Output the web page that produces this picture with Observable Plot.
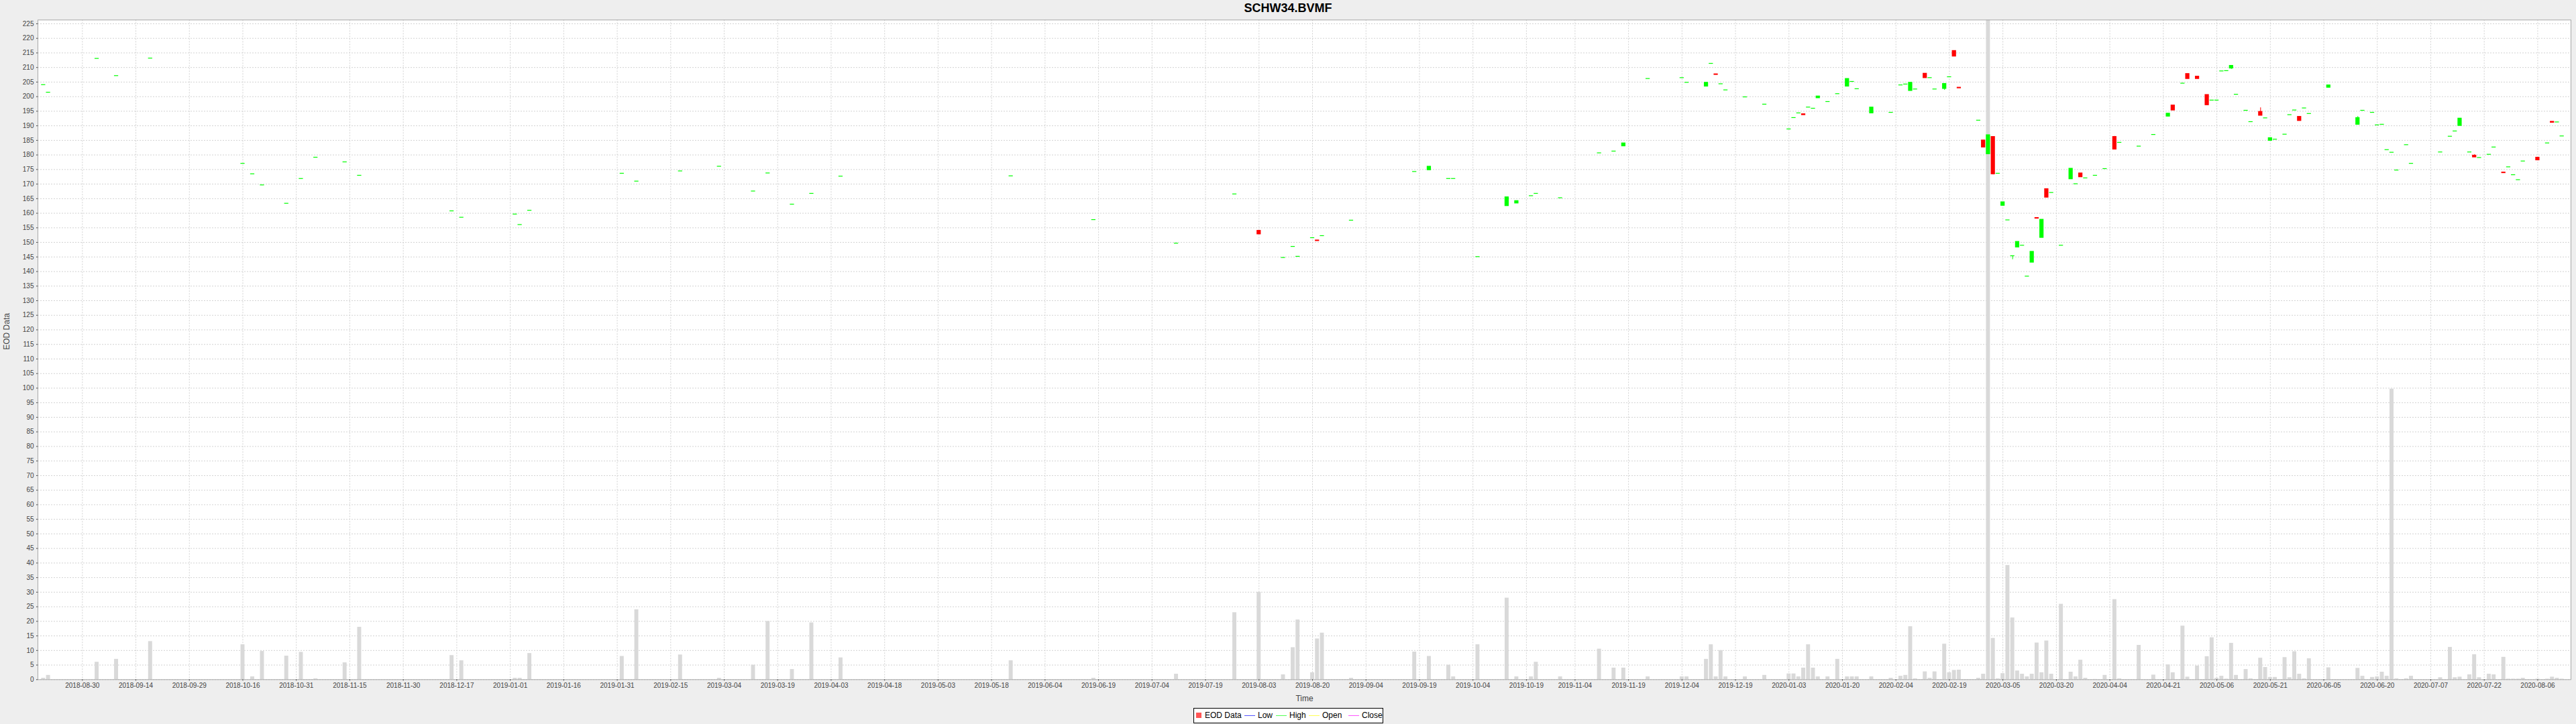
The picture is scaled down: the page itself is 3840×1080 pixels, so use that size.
<!DOCTYPE html>
<html>
<head>
<meta charset="utf-8">
<script src="https://cdn.jsdelivr.net/npm/d3@7"></script>
<script src="https://cdn.jsdelivr.net/npm/@observablehq/plot@0.6"></script>
<style>
  html, body { margin: 0; padding: 0; background: #EEEEEE; }
  body { width: 3840px; height: 1080px; overflow: hidden; font-family: "Liberation Sans", Arial, sans-serif; position: relative; }
  #title { height: 24px; line-height: 24px; text-align: center; font-weight: bold; font-size: 18px; color: #000; }
  #chart svg { display: block; }
  #legend { position: absolute; left: 1779px; top: 1056px; height: 21px; border: 1px solid #000; background: #fff; font-size: 12px; color: #000; white-space: nowrap; }
  #legend span { position: absolute; top: 3px; line-height: 14px; }
  #legend i { position: absolute; display: block; }
</style>
</head>
<body>
<div id="title">SCHW34.BVMF</div>
<div id="chart"></div>
<div id="legend"></div>
<script>
// ---- data ----
const dates = ["2018-08-20","2018-08-21","2018-09-04","2018-09-10","2018-09-19","2018-10-16","2018-10-18","2018-10-22","2018-10-29","2018-11-01","2018-11-06","2018-11-14","2018-11-19","2018-12-14","2018-12-18",
"2019-01-02","2019-01-03","2019-01-07","2019-02-01","2019-02-06","2019-02-19","2019-03-01","2019-03-12","2019-03-15","2019-03-22","2019-03-28","2019-04-05","2019-05-24","2019-06-18","2019-07-11","2019-07-29","2019-08-05","2019-08-12","2019-08-14","2019-08-15",
"2019-08-20","2019-08-21","2019-08-22","2019-08-30","2019-09-18","2019-09-23","2019-09-27","2019-09-30","2019-10-07","2019-10-15","2019-10-17","2019-10-22","2019-10-23","2019-10-30","2019-11-11","2019-11-14","2019-11-18","2019-11-25","2019-12-04","2019-12-05","2019-12-11","2019-12-12","2019-12-13","2019-12-16","2019-12-17",
"2019-12-23","2019-12-27","2020-01-03","2020-01-06","2020-01-07","2020-01-08","2020-01-09","2020-01-10","2020-01-13","2020-01-15","2020-01-17","2020-01-21","2020-01-22","2020-01-23","2020-01-28","2020-02-03","2020-02-05","2020-02-06","2020-02-07","2020-02-10","2020-02-12","2020-02-13","2020-02-14","2020-02-18","2020-02-19","2020-02-20","2020-02-21","2020-02-27","2020-02-28",
"2020-03-02","2020-03-03","2020-03-04","2020-03-05","2020-03-06","2020-03-09","2020-03-10","2020-03-11","2020-03-12","2020-03-13","2020-03-16","2020-03-17","2020-03-18","2020-03-19","2020-03-23","2020-03-25","2020-03-26","2020-03-27","2020-03-30","2020-04-01","2020-04-03","2020-04-07","2020-04-08","2020-04-14",
"2020-04-17","2020-04-22","2020-04-23","2020-04-27","2020-04-28","2020-04-30","2020-05-04","2020-05-05","2020-05-06","2020-05-07","2020-05-08","2020-05-11","2020-05-12","2020-05-14","2020-05-15","2020-05-19","2020-05-20","2020-05-21","2020-05-22","2020-05-26","2020-05-27","2020-05-28","2020-05-29","2020-06-01","2020-06-02","2020-06-08",
"2020-06-16","2020-06-17","2020-06-19","2020-06-22","2020-06-23","2020-06-24","2020-06-25","2020-06-26","2020-06-30","2020-07-01","2020-07-09","2020-07-13","2020-07-14","2020-07-15","2020-07-17","2020-07-20","2020-07-21","2020-07-23","2020-07-24","2020-07-28","2020-07-29","2020-07-30","2020-07-31","2020-08-03","2020-08-06","2020-08-10","2020-08-11","2020-08-12","2020-08-13"];

const opens = [204.0,201.4,213.0,207.1,213.1,177.0,173.4,169.6,163.3,171.8,179.1,177.5,172.9,160.7,158.5,
159.6,156.0,160.9,173.6,170.9,174.4,176.0,167.5,173.7,163.0,166.7,172.6,172.7,157.7,149.6,166.5,154.0,144.7,148.5,145.1,
151.5,150.7,152.2,157.5,174.2,174.8,171.8,171.8,145.0,162.5,163.4,165.9,166.7,165.2,180.6,181.2,183.0,206.1,206.4,204.8,203.5,211.3,207.7,204.3,202.2,
199.8,197.3,188.8,192.7,194.3,194.0,196.3,195.9,199.5,198.2,200.9,203.5,205.1,202.6,194.3,194.5,203.9,204.2,202.0,202.5,207.9,206.4,202.5,202.7,206.7,215.7,203.1,191.8,185.0,
180.3,186.2,173.6,162.6,157.6,145.3,148.3,148.9,138.3,143.1,158.4,151.6,168.3,167.0,148.9,171.7,170.0,173.7,172.0,172.9,175.2,186.2,184.2,182.9,
186.9,193.2,197.0,204.5,207.8,206.9,200.6,198.7,198.7,208.7,208.8,209.7,200.7,195.2,191.3,194.8,192.6,184.9,185.3,187.0,193.7,195.3,193.1,196.0,194.1,203.1,
190.4,195.2,194.5,190.2,190.4,181.7,180.8,174.7,183.4,177.0,180.9,186.3,188.1,190.0,180.9,179.8,179.0,180.1,182.6,174.0,175.8,173.1,171.4,177.8,179.1,184.0,191.4,191.2,186.4];

const highs = [204.0,201.4,213.0,207.1,213.1,177.0,173.4,169.6,163.3,171.8,179.1,177.5,172.9,160.7,158.5,
159.6,156.0,160.9,173.6,170.9,174.4,176.0,167.5,173.7,163.0,166.7,172.6,172.7,157.7,149.6,166.5,154.0,144.7,148.5,145.1,
151.5,150.7,152.2,157.5,174.2,176.0,171.8,171.8,145.0,165.5,164.2,165.9,166.7,165.2,180.6,181.2,184.0,206.1,206.4,204.8,204.8,211.3,207.7,204.3,202.2,
199.8,197.3,188.8,192.7,194.3,194.0,196.3,195.9,200.1,198.2,200.9,206.1,205.1,202.6,196.3,194.5,203.9,204.2,204.8,202.5,207.9,206.4,202.5,204.4,206.7,215.7,203.1,191.8,185.0,
186.8,186.2,173.6,163.8,157.6,145.3,150.2,148.9,138.3,146.8,158.4,157.8,168.3,167.0,148.9,175.3,170.0,173.7,172.0,172.9,175.2,186.4,184.2,182.9,
186.9,194.2,197.0,204.5,207.8,206.9,200.6,198.7,198.7,208.7,208.8,210.6,200.7,195.2,191.3,196.2,192.6,185.8,185.3,187.0,193.7,195.3,193.1,196.0,194.1,203.9,
193.2,195.2,194.5,190.2,190.4,181.7,180.8,174.7,183.4,177.0,180.9,186.3,188.1,192.5,180.9,180.1,179.0,180.1,182.6,174.0,175.8,173.1,171.4,177.8,179.1,184.0,191.4,191.2,186.4];

const lows = [204.0,201.4,213.0,207.1,213.1,177.0,173.4,169.6,163.3,171.8,179.1,177.5,172.9,160.7,158.5,
159.6,156.0,160.9,173.6,170.9,174.4,176.0,167.5,173.7,163.0,166.7,172.6,172.7,157.7,149.6,166.5,152.8,144.7,148.5,145.1,
151.5,150.5,152.2,157.5,174.2,174.8,171.8,171.8,145.0,162.5,163.4,165.9,166.7,165.2,180.6,181.2,183.0,206.1,206.4,204.8,203.5,211.3,207.5,204.3,202.2,
199.8,197.3,188.8,192.7,194.3,193.7,196.3,195.9,199.5,198.2,200.9,203.5,205.1,202.6,194.3,194.5,203.9,204.2,202.0,202.5,206.4,206.4,202.5,202.2,206.7,213.8,202.9,191.8,182.6,
180.3,173.2,173.6,162.6,157.6,144.1,148.3,148.9,138.3,143.1,158.2,151.6,165.4,167.0,148.9,171.7,170.0,172.4,172.0,172.9,175.2,181.9,184.2,182.9,
186.9,193.2,195.3,204.5,206.1,206.1,197.1,198.7,198.7,208.7,208.8,209.4,200.7,195.2,191.3,193.5,192.6,184.9,185.3,187.0,193.7,195.3,191.7,196.0,194.1,203.1,
190.4,195.2,194.5,190.2,190.4,181.7,180.8,174.7,183.4,177.0,180.9,186.3,188.1,190.0,180.9,179.2,179.0,180.1,182.6,173.8,175.8,173.1,171.4,177.8,178.2,184.0,191.1,191.2,186.4];

const closes = [204.0,201.4,213.0,207.1,213.1,177.0,173.4,169.6,163.3,171.8,179.1,177.5,172.9,160.7,158.5,
159.6,156.0,160.9,173.6,170.9,174.4,176.0,167.5,173.7,163.0,166.7,172.6,172.7,157.7,149.6,166.5,152.8,144.7,148.5,145.1,
151.5,150.5,152.2,157.5,174.2,176.0,171.8,171.8,145.0,165.5,164.2,165.9,166.7,165.2,180.6,181.2,184.0,206.1,206.4,204.8,204.8,211.3,207.5,204.3,202.2,
199.8,197.3,188.8,192.7,194.3,193.7,196.3,195.9,200.1,198.2,200.9,206.1,205.1,202.6,196.3,194.5,203.9,204.2,204.8,202.5,206.4,206.4,202.5,204.4,206.7,213.8,202.9,191.8,182.6,
186.8,173.4,173.6,163.8,157.6,145.3,150.2,148.9,138.3,146.8,158.2,157.8,165.4,167.0,148.9,175.3,170.0,172.4,172.0,172.9,175.2,181.9,184.2,182.9,
186.9,194.2,195.3,204.5,206.1,206.1,197.1,198.7,198.7,208.7,208.8,210.6,200.7,195.2,191.3,193.5,192.6,185.8,185.3,187.0,193.7,195.3,191.7,196.0,194.1,203.9,
192.7,195.2,194.5,190.2,190.4,181.7,180.8,174.7,183.4,177.0,180.9,186.3,188.1,192.5,180.9,179.2,179.0,180.1,182.6,173.8,175.8,173.1,171.4,177.8,178.2,184.0,191.1,191.2,186.4];

// volume, read in units of the price axis (the largest bar fills the plot height)
const volumes = [0.5,1.5,6.0,7.0,13.1,12.0,1.0,9.7,8.1,9.4,0.3,5.8,18.0,8.3,6.5,
0.5,0.5,9.0,8.0,24.0,8.5,0.5,5.0,20.0,3.5,19.5,7.5,6.5,0.5,1.9,23.0,30.0,1.7,11.0,20.5,
2.4,14.0,16.0,0.5,9.5,8.0,5.0,1.0,12.0,28.0,1.0,1.0,6.0,1.0,10.5,4.0,4.0,1.0,1.0,1.0,7.0,12.0,1.0,10.0,1.0,
1.0,1.5,2.0,2.0,1.0,4.0,12.0,4.0,1.0,1.0,7.0,1.0,1.0,1.0,1.0,0.5,1.2,1.5,18.2,0.3,2.7,0.5,2.7,12.2,2.4,3.2,3.3,0.5,1.9,
226.3,14.2,0.3,2.1,39.2,21.2,3.0,1.9,1.0,1.9,12.6,2.4,13.3,1.9,25.9,2.6,1.0,6.7,0.5,0.1,1.5,27.5,0.3,11.8,
1.6,5.1,2.4,18.4,0.9,4.7,7.9,14.4,0.5,1.2,0.2,12.5,1.5,3.5,0.3,7.4,4.2,0.8,0.8,7.6,0.7,9.6,1.9,0.3,7.2,4.1,
3.9,1.2,0.8,1.0,2.6,1.2,99.7,0.3,0.3,1.2,0.7,11.1,0.7,0.9,1.7,8.6,0.7,1.9,1.7,7.7,0.2,0.2,0.2,0.5,0.2,0.2,0.9,0.5,0.2];

const xTickLabels = ["2018-08-30","2018-09-14","2018-09-29","2018-10-16","2018-10-31","2018-11-15","2018-11-30","2018-12-17",
"2019-01-01","2019-01-16","2019-01-31","2019-02-15","2019-03-04","2019-03-19","2019-04-03","2019-04-18","2019-05-03","2019-05-18","2019-06-04","2019-06-19","2019-07-04","2019-07-19","2019-08-03","2019-08-20","2019-09-04","2019-09-19","2019-10-04","2019-10-19","2019-11-04","2019-11-19","2019-12-04","2019-12-19",
"2020-01-03","2020-01-20","2020-02-04","2020-02-19","2020-03-05","2020-03-20","2020-04-04","2020-04-21","2020-05-06","2020-05-21","2020-06-05","2020-06-20","2020-07-07","2020-07-22","2020-08-06"];

const yTicks = [0,5,10,15,20,25,30,35,40,45,50,55,60,65,70,75,80,85,90,95,100,105,110,115,120,125,130,135,140,145,150,155,160,165,170,175,180,185,190,195,200,205,210,215,220,225];

const seriesName = "EOD Data";
const legendItems = ["Low", "High", "Open", "Close"];

// ---- weekday (Monday-Friday) timeline: weekends take no space ----
const BASE = Date.UTC(2018, 7, 27); // a Monday
function wd(s) {
  const [y, m, d] = s.split("-").map(Number);
  const days = Math.round((Date.UTC(y, m - 1, d) - BASE) / 864e5);
  const wk = Math.floor(days / 7);
  const dow = days - wk * 7;
  return wk * 5 + Math.min(dow, 5) - 3; // 0 at 2018-08-30
}

const rows = dates.map((d, i) => ({
  w: wd(d), o: opens[i], h: highs[i], l: lows[i], c: closes[i], v: volumes[i],
  dir: closes[i] >= opens[i] ? "up" : "down"
}));
const xTickPos = xTickLabels.map(wd);
const labelAt = new Map(xTickPos.map((p, i) => [p, xTickLabels[i]]));

const yTop = 226.3;
const vMax = d3.max(volumes);
const gridStyle = {stroke: "#D2D2D2", strokeOpacity: 1, strokeWidth: 1, strokeDasharray: "2,2"};

const chart = Plot.plot({
  width: 3840,
  height: 1028,
  marginTop: 5.3,
  marginBottom: 38.7,
  marginLeft: 56,
  marginRight: 8,
  style: {background: "transparent", fontFamily: "'Liberation Sans', Arial, sans-serif", overflow: "visible"},
  x: {type: "linear", domain: [-9.15, 511.84]},
  y: {domain: [0, yTop]},
  color: {domain: ["up", "down"], range: ["#00FF00", "#FF0000"]},
  marks: [
    Plot.frame({fill: "#FFFFFF", stroke: null}),
    Plot.gridY(yTicks, gridStyle),
    Plot.gridX(xTickPos, gridStyle),
    Plot.rect(rows, {x1: r => r.w - 0.41, x2: r => r.w + 0.41, y1: 0, y2: r => r.v / vMax * yTop, fill: "#D9D9D9"}),
    Plot.ruleX(rows, {x: "w", y1: "l", y2: "h", stroke: "dir", strokeWidth: 1}),
    Plot.rect(rows, {x1: r => r.w - 0.43, x2: r => r.w + 0.43, y1: "o", y2: "c", fill: "dir", insetTop: -0.6, insetBottom: -0.6}),
    Plot.frame({stroke: "#A8A8A8", strokeWidth: 1}),
    Plot.axisY(yTicks, {anchor: "left", tickSize: 2, tickPadding: 4, fontSize: 10, label: null, color: "#444444"}),
    Plot.axisX(xTickPos, {anchor: "bottom", tickSize: 2, tickPadding: 3, fontSize: 10, label: null, color: "#444444", tickFormat: v => labelAt.get(v)}),
    Plot.text(["Time"], {frameAnchor: "bottom", dy: 28, fontSize: 12, fill: "#444444", lineAnchor: "middle"}),
    Plot.text([seriesName], {frameAnchor: "left", dx: -46, rotate: -90, fontSize: 12, fill: "#444444", lineAnchor: "middle"})
  ]
});
document.getElementById("chart").appendChild(chart);

// legend
const legend = document.getElementById("legend");
const lineColors = ["#5555FF", "#55FF55", "#FFFF55", "#FF55FF"];
let html = `<i style="left:3px;top:6px;width:8px;height:8px;background:#FF5555"></i><span style="left:16px">${seriesName}</span>`;
const lx = [75, 122, 171, 230];
legendItems.forEach((name, i) => {
  html += `<i style="left:${lx[i]}px;top:10px;width:16px;height:1px;background:${lineColors[i]}"></i><span style="left:${lx[i] + 20}px">${name}</span>`;
});
legend.innerHTML = html;
legend.style.width = "281px";
</script>
</body>
</html>
